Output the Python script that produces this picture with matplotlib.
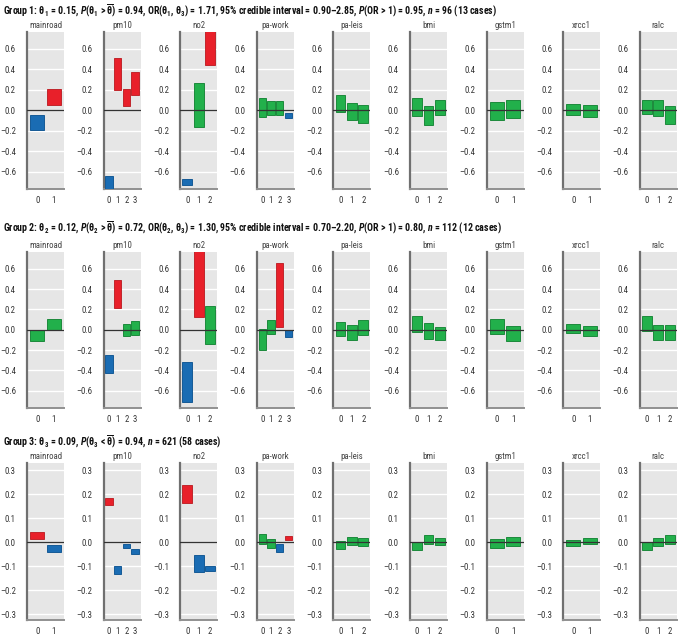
import matplotlib
matplotlib.use("Agg")
import matplotlib.pyplot as plt
from matplotlib import font_manager

# ---------------- data ----------------
variables = ["mainroad", "pm10", "no2", "pa-work", "pa-leis", "bmi", "gstm1", "xrcc1", "ralc"]
n_levels = [2, 4, 3, 4, 3, 3, 2, 2, 3]

g1_low = {
    "mainroad": [-0.195, 0.05], "pm10": [-0.80, 0.195, 0.04, 0.15], "no2": [-0.73, -0.16, 0.44],
    "pa-work": [-0.07, -0.05, -0.05, -0.075], "pa-leis": [-0.02, -0.10, -0.125],
    "bmi": [-0.055, -0.14, -0.05], "gstm1": [-0.10, -0.08], "xrcc1": [-0.045, -0.065],
    "ralc": [-0.04, -0.06, -0.135]}
g1_high = {
    "mainroad": [-0.05, 0.205], "pm10": [-0.64, 0.51, 0.205, 0.37], "no2": [-0.67, 0.265, 0.80],
    "pa-work": [0.12, 0.095, 0.095, -0.025], "pa-leis": [0.15, 0.07, 0.055],
    "bmi": [0.12, 0.04, 0.10], "gstm1": [0.08, 0.10], "xrcc1": [0.06, 0.05],
    "ralc": [0.10, 0.105, 0.04]}
g1_col = {
    "mainroad": "br", "pm10": "brrr", "no2": "bgr", "pa-work": "gggb", "pa-leis": "ggg",
    "bmi": "ggg", "gstm1": "gg", "xrcc1": "gg", "ralc": "ggg"}

g2_low = {
    "mainroad": [-0.11, 0.0], "pm10": [-0.425, 0.21, -0.065, -0.055], "no2": [-0.71, 0.125, -0.14],
    "pa-work": [-0.20, -0.045, 0.03, -0.07], "pa-leis": [-0.065, -0.10, -0.055],
    "bmi": [-0.02, -0.09, -0.10], "gstm1": [-0.045, -0.11], "xrcc1": [-0.035, -0.065],
    "ralc": [-0.01, -0.10, -0.105]}
g2_high = {
    "mainroad": [0.0, 0.11], "pm10": [-0.245, 0.49, 0.055, 0.09], "no2": [-0.32, 0.80, 0.23],
    "pa-work": [0.01, 0.10, 0.66, 0.0], "pa-leis": [0.075, 0.05, 0.10],
    "bmi": [0.135, 0.065, 0.025], "gstm1": [0.11, 0.04], "xrcc1": [0.06, 0.035],
    "ralc": [0.135, 0.045, 0.045]}
g2_col = {
    "mainroad": "gg", "pm10": "brgg", "no2": "brg", "pa-work": "ggrb", "pa-leis": "ggg",
    "bmi": "ggg", "gstm1": "gg", "xrcc1": "gg", "ralc": "ggg"}

g3_low = {
    "mainroad": [0.0125, -0.043], "pm10": [0.154, -0.133, -0.025, -0.051], "no2": [0.165, -0.126, -0.121],
    "pa-work": [-0.007, -0.025, -0.042, 0.007], "pa-leis": [-0.028, -0.011, -0.015],
    "bmi": [-0.033, -0.010, -0.0125], "gstm1": [-0.025, -0.015], "xrcc1": [-0.017, -0.008],
    "ralc": [-0.032, -0.018, -0.006]}
g3_high = {
    "mainroad": [0.043, -0.014], "pm10": [0.186, -0.10, -0.006, -0.028], "no2": [0.239, -0.054, -0.10],
    "pa-work": [0.032, 0.011, -0.008, 0.024], "pa-leis": [0.006, 0.022, 0.019],
    "bmi": [0.0, 0.028, 0.018], "gstm1": [0.0125, 0.022], "xrcc1": [0.007, 0.017],
    "ralc": [-0.001, 0.019, 0.031]}
g3_col = {
    "mainroad": "rb", "pm10": "rbbb", "no2": "rbb", "pa-work": "ggbr", "pa-leis": "ggg",
    "bmi": "ggg", "gstm1": "gg", "xrcc1": "gg", "ralc": "ggg"}

titles = [
    r"Group 1: $\mathrm{\theta}_1$ = 0.15, $P$($\mathrm{\theta}_1$ > $\overline{\mathrm{\theta}}$) = 0.94, OR($\mathrm{\theta}_1$, $\mathrm{\theta}_3$) = 1.71, 95% credible interval = 0.90–2.85, $P$(OR > 1) = 0.95, $n$ = 96 (13 cases)",
    r"Group 2: $\mathrm{\theta}_2$ = 0.12, $P$($\mathrm{\theta}_2$ > $\overline{\mathrm{\theta}}$) = 0.72, OR($\mathrm{\theta}_2$, $\mathrm{\theta}_3$) = 1.30, 95% credible interval = 0.70–2.20, $P$(OR > 1) = 0.80, $n$ = 112 (12 cases)",
    r"Group 3: $\mathrm{\theta}_3$ = 0.09, $P$($\mathrm{\theta}_3$ < $\overline{\mathrm{\theta}}$) = 0.94, $n$ = 621 (58 cases)",
]

# ---------------- style ----------------
avail = {f.name for f in font_manager.fontManager.ttflist}
narrow = "DejaVu Sans"
for cand in ["Roboto Condensed", "Archivo Narrow", "Asap Condensed", "Liberation Sans Narrow"]:
    if cand in avail:
        narrow = cand
        break
plt.rcParams["font.family"] = [narrow, "DejaVu Sans"]
plt.rcParams["mathtext.fontset"] = "custom"
plt.rcParams["mathtext.rm"] = narrow + ":bold"
plt.rcParams["mathtext.it"] = narrow + ":italic:bold"
plt.rcParams["mathtext.bf"] = narrow + ":bold"
plt.rcParams["mathtext.sf"] = narrow + ":bold"

colors = {"r": "#e8202a", "g": "#22b04b", "b": "#1a6cb3"}
edges = {"r": "#c0262c", "g": "#1c8a3c", "b": "#155a96"}

W, H = 681, 635
fig = plt.figure(figsize=(W / 100, H / 100), dpi=100)

rows = [
    dict(low=g1_low, high=g1_high, col=g1_col, top=32, bot=189, ylim=(-0.77, 0.765),
         ticks=[-0.6, -0.4, -0.2, 0.0, 0.2, 0.4, 0.6], ty=11),
    dict(low=g2_low, high=g2_high, col=g2_col, top=252, bot=408, ylim=(-0.77, 0.765),
         ticks=[-0.6, -0.4, -0.2, 0.0, 0.2, 0.4, 0.6], ty=228),
    dict(low=g3_low, high=g3_high, col=g3_col, top=463, bot=620, ylim=(-0.325, 0.33),
         ticks=[-0.3, -0.2, -0.1, 0.0, 0.1, 0.2, 0.3], ty=442),
]

for r, row in enumerate(rows):
    fig.text(3 / W, 1 - row["ty"] / H, titles[r], fontsize=7.1, fontweight="bold",
             ha="left", va="center", color="#111111")
    for i, v in enumerate(variables):
        left = 27 + i * 76.6
        ax = fig.add_axes([left / W, 1 - row["bot"] / H, 37 / W, (row["bot"] - row["top"]) / H])
        ax.set_facecolor("#e6e6e6")
        n = n_levels[i]
        xs = list(range(n))
        for x, lo, hi, c in zip(xs, row["low"][v], row["high"][v], row["col"][v]):
            ax.bar(x, hi - lo, bottom=lo, width=0.85, color=colors[c],
                   edgecolor=edges[c], linewidth=0.7, zorder=3)
        ax.set_xlim(-0.62, n - 0.38)
        ax.set_ylim(*row["ylim"])
        ax.set_yticks(row["ticks"])
        ax.set_yticklabels(["{:.1f}".format(t).replace("-", "–") for t in row["ticks"]])
        ax.set_xticks(xs)
        ax.set_xticklabels([str(x) for x in xs])
        for t in row["ticks"]:
            if t != 0:
                ax.axhline(t, color="white", linewidth=1.0, zorder=1)
        ax.axhline(0, color="#333333", linewidth=0.9, zorder=4)
        ax.tick_params(axis="both", length=0, labelsize=6.3, colors="#333333")
        ax.tick_params(axis="y", pad=8)
        ax.tick_params(axis="x", pad=5)
        for s in ["top", "right"]:
            ax.spines[s].set_visible(False)
        ax.spines["left"].set_color("#707070")
        ax.spines["left"].set_linewidth(1.6)
        ax.spines["bottom"].set_color("#909090")
        ax.spines["bottom"].set_linewidth(1.4)
        ax.set_title(v, fontsize=6.3, color="#444444", pad=3)

fig.savefig("out.png", dpi=100)
